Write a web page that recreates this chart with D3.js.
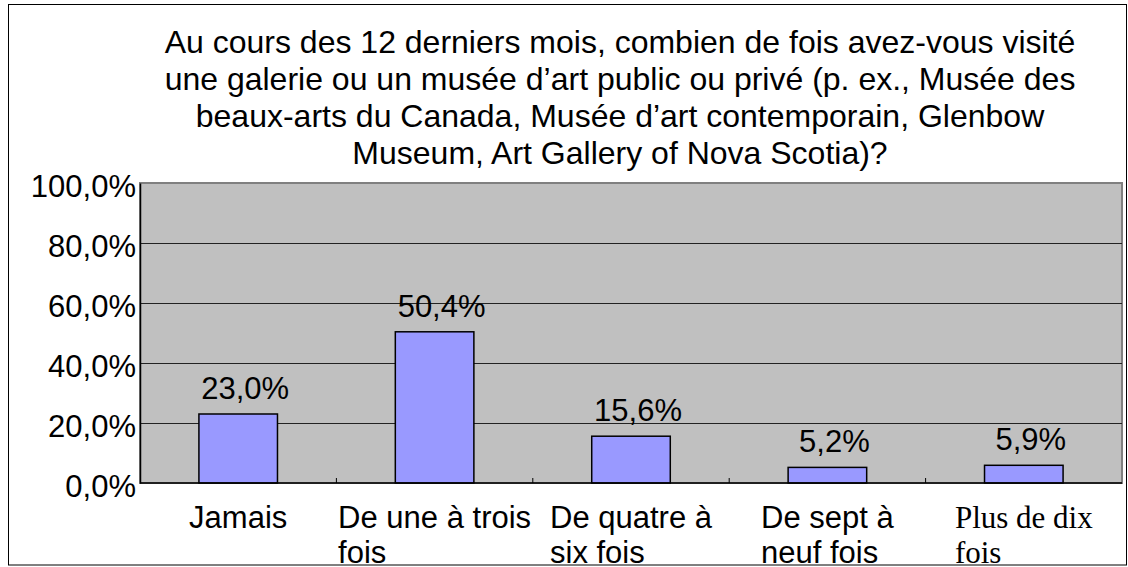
<!DOCTYPE html>
<html>
<head>
<meta charset="utf-8">
<script src="https://cdn.jsdelivr.net/npm/d3@7"></script>
<style>
  body { margin: 0; background: #fff; }
  #chart text { font-family: "Liberation Sans", Arial, sans-serif; fill: #000; }
</style>
</head>
<body>
<div id="chart"></div>
<script>

var titleLines = [
  "Au cours des 12 derniers mois, combien de fois avez-vous visité",
  "une galerie ou un musée d’art public ou privé (p. ex., Musée des",
  "beaux-arts du Canada, Musée d’art contemporain, Glenbow",
  "Museum, Art Gallery of Nova Scotia)?"
];

var categories = ["Jamais", "De une à trois fois", "De quatre à six fois", "De sept à neuf fois", "Plus de dix fois"];
var catLines = [["Jamais"], ["De une à trois", "fois"], ["De quatre à", "six fois"], ["De sept à", "neuf fois"], ["Plus de dix", "fois"]];
var values = [23.0, 50.4, 15.6, 5.2, 5.9];
var yTicks = [0, 20, 40, 60, 80, 100];

var W = 1128, H = 567;
var margin = {top: 183, right: 6, bottom: 84, left: 140},
    width = W - margin.left - margin.right,
    height = H - margin.top - margin.bottom;

var root = d3.select("#chart").append("svg")
    .attr("width", W)
    .attr("height", H);

root.append("defs").append("clipPath").attr("id", "frame")
  .append("rect").attr("x", 8).attr("y", 4).attr("width", 1119).attr("height", 561);

var svg = root.append("g")
    .attr("clip-path", "url(#frame)")
  .append("g")
    .attr("transform", "translate(" + margin.left + "," + margin.top + ")");

var x = d3.scaleBand().domain(categories).range([0, width]).paddingInner(0.6).paddingOuter(0.3),
    y = d3.scaleLinear().domain([0, 100]).range([height, 0]);

var fmt = function(v) { return d3.format(".1f")(v).replace(".", ",") + "%"; };

// title
root.append("text")
    .attr("x", 620)
    .attr("text-anchor", "middle")
    .style("font-size", "32px")
  .selectAll("tspan")
  .data(titleLines)
  .enter().append("tspan")
    .attr("x", 620)
    .attr("y", function(d, i) { return 53 + i * 37; })
    .text(function(d) { return d; });

// plot background
svg.append("rect")
    .attr("width", width)
    .attr("height", height)
    .attr("fill", "#c0c0c0")
    .attr("stroke", "#808080")
    .attr("stroke-width", 2);

// gridlines
svg.append("g")
    .attr("class", "grid")
    .call(d3.axisLeft(y).tickValues(yTicks.slice(1, -1)).tickSize(-width).tickFormat(""))
    .call(function(g) { g.select(".domain").remove(); })
    .selectAll("line")
      .attr("stroke", "#222");

// bars
svg.selectAll(".bar")
    .data(values)
  .enter().append("rect")
    .attr("class", "bar")
    .attr("x", function(d, i) { return x(categories[i]); })
    .attr("y", function(d) { return y(d); })
    .attr("width", x.bandwidth())
    .attr("height", function(d) { return height - y(d); })
    .attr("fill", "#9999ff")
    .attr("stroke", "#000")
    .attr("stroke-width", 1.5);

// value labels
svg.selectAll(".val")
    .data(values)
  .enter().append("text")
    .attr("class", "val")
    .attr("x", function(d, i) { return x(categories[i]) + x.bandwidth() / 2 + 7; })
    .attr("y", function(d) { return y(d) - 15; })
    .attr("text-anchor", "middle")
    .style("font-size", "31px")
    .text(function(d) { return fmt(d); });

// y axis
svg.append("g")
    .attr("class", "y-axis")
    .call(d3.axisLeft(y).tickValues(yTicks).tickSize(0).tickPadding(4).tickFormat(fmt))
    .call(function(g) {
      g.select(".domain").attr("stroke", "#000").attr("stroke-width", 1.5);
      g.selectAll("text").style("font-size", "31px").attr("dy", "0.42em");
    });

// x axis
var xAxis = svg.append("g")
    .attr("class", "x-axis")
    .attr("transform", "translate(0," + height + ")");

xAxis.append("line")
    .attr("x1", 0).attr("x2", width)
    .attr("stroke", "#000").attr("stroke-width", 1.5);

xAxis.selectAll(".sep")
    .data(categories.slice(1))
  .enter().append("line")
    .attr("class", "sep")
    .attr("x1", function(d) { return x(d) - x.step() * x.paddingInner() / 2; })
    .attr("x2", function(d) { return x(d) - x.step() * x.paddingInner() / 2; })
    .attr("y1", 0).attr("y2", -5)
    .attr("stroke", "#000");

var labels = xAxis.selectAll(".cat")
    .data(catLines)
  .enter().append("text")
    .attr("class", "cat")
    .style("font-size", "31px")
    .style("font-family", function(d, i) { return i === 4 ? "'Liberation Serif', 'Times New Roman', serif" : null; });

labels.each(function(lines, i) {
  var t = d3.select(this);
  var cx = x(categories[i]) + x.bandwidth() / 2;
  var first = t.append("tspan").attr("y", 45).text(lines[0]);
  var w = first.node().getComputedTextLength();
  first.attr("x", cx - w / 2);
  lines.slice(1).forEach(function(l, j) {
    t.append("tspan").attr("x", cx - w / 2).attr("y", 45 + 35 * (j + 1)).text(l);
  });
});

// outer frame
root.append("rect")
    .attr("x", 8.5).attr("y", 4.5)
    .attr("width", 1118).attr("height", 560.5)
    .attr("fill", "none")
    .attr("stroke", "#000")
    .attr("stroke-width", 1);

</script>
</body>
</html>
